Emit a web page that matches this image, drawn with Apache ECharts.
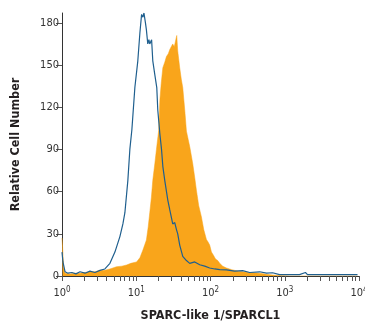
<!DOCTYPE html>
<html>
<head>
<meta charset="utf-8">
<script src="https://cdn.jsdelivr.net/npm/echarts@6/dist/echarts.min.js"></script>
<style>
html,body{margin:0;padding:0;background:#fff;}
#c{width:365px;height:322px;}
</style>
</head>
<body>
<div id="c"></div>
<script>
// Isotype control (blue outline)
var blueX = [1, 1.03, 1.10, 1.20, 1.36, 1.54, 1.75, 2.04, 2.38, 2.78, 3.24, 3.78, 4.42, 5.16, 6.02, 6.61, 7.03, 7.71, 8.20, 8.73, 9.58, 10.5, 11.2, 11.8, 12.3, 12.7, 13.3, 13.7, 14.3, 14.8, 15.2, 16.1, 16.7, 17.8, 18.9, 19.5, 20.8, 21.9, 22.8, 24.2, 26.6, 28.3, 31.0, 33.0, 34.8, 36.2, 38.5, 42.3, 47.4, 52.5, 61.3, 71.6, 83.6, 97.5, 114, 133, 164, 211, 271, 337, 459, 569, 685, 851, 1160, 1580, 1900, 2025, 2940, 5460, 9550];
var blueY = [17, 10, 3, 2, 2.5, 1.5, 3, 2, 3.5, 2.5, 4, 5, 9, 17, 28, 37, 45, 68, 90, 104, 134, 153, 173, 186, 184, 187, 180, 175, 165, 168, 165, 168, 153, 143, 134, 118, 101, 90, 78, 68, 54, 47, 37, 38, 33, 30, 22, 14, 11, 9, 10, 8, 7, 5.7, 5, 4.5, 4.3, 3.5, 3.8, 2.5, 3, 2, 2.3, 1, 1, 1, 2.5, 1, 1, 1, 1];
// SPARC-like 1 stained (orange filled)
var orangeX = [1, 1.02, 1.05, 1.10, 1.28, 1.50, 1.75, 2.04, 2.38, 2.78, 3.24, 3.78, 4.42, 5.44, 6.40, 7.41, 8.46, 10.1, 11.2, 12.3, 13.7, 14.5, 15.2, 16.0, 16.7, 17.8, 18.7, 20.1, 20.8, 21.7, 22.8, 24.2, 25.5, 27.0, 28.3, 29.6, 31.0, 32.5, 34.1, 35.1, 36.2, 38.5, 40.4, 42.3, 45.0, 47.4, 50.1, 52.5, 55.0, 57.6, 61.3, 64.6, 69.4, 75.5, 81.1, 88.1, 93.1, 97.5, 103, 109, 117, 125, 133, 146, 164, 193, 232, 271, 337, 459, 569, 685, 851, 1160, 9550];
var orangeY = [27, 20, 6, 2, 1.5, 2, 2, 2.5, 3, 3, 4, 4, 5, 6.6, 7, 7.8, 9, 10, 13, 18.5, 25.6, 35, 45, 56, 68, 80, 90, 104, 125, 137, 148, 152, 156, 158, 161, 163, 165, 163, 168, 171, 160, 148, 140, 134, 118, 103, 97, 92, 86, 80, 70, 61, 50, 42, 33, 26, 24, 22, 17, 15, 12, 11, 9, 7, 5.7, 4.5, 3.5, 3, 2.5, 2, 1.2, 0.7, 0.3, 0, 0];
var yTicks = [0, 30, 60, 90, 120, 150, 180];
var xMajorTicks = [1, 10, 100, 1000, 10000];
var xMinorTicks = [2,3,4,5,6,7,8,9,20,30,40,50,60,70,80,90,200,300,400,500,600,700,800,900,2000,3000,4000,5000,6000,7000,8000,9000];
var xTitle = 'SPARC-like 1/SPARCL1';
var yTitle = 'Relative Cell Number';

function pairs(xs, ys){ return xs.map(function(x,i){ return [x, ys[i]]; }); }

// pick an installed condensed font
var ctx = document.createElement('canvas').getContext('2d');
function w(font, txt){ ctx.font = font; return ctx.measureText(txt).width; }
function has(name){
  var t = 'SPARC-like 1/SPARCL1 Relative';
  return w('14px "' + name + '", monospace', t) !== w('14px monospace', t);
}
var narrow = has('Liberation Sans Narrow');
var FONT = narrow ? '"Liberation Sans Narrow"' :
           (has('DejaVu Sans Condensed') ? '"DejaVu Sans Condensed"' : 'sans-serif');
var titleSize = narrow ? 14.5 : 12.5;
var tickSize = narrow ? 12.5 : 11;

var chart = echarts.init(document.getElementById('c'), null, {renderer:'canvas'});
chart.setOption({
  animation: false,
  backgroundColor: '#fff',
  grid: {left: 62, right: 6, top: 13, bottom: 46, containLabel: false, outerBoundsMode: 'none'},
  xAxis: {
    type: 'log', logBase: 10, min: 1, max: 10000,
    name: xTitle, nameLocation: 'middle', nameGap: 33,
    nameTextStyle: {fontFamily: FONT, fontWeight: 'bold', fontSize: titleSize, color: '#231f20'},
    axisLine: {lineStyle: {color: '#333', width: 1}},
    axisTick: {show: true, length: 5, customValues: xMajorTicks.concat(xMinorTicks), lineStyle: {color: '#555'}},
    minorTick: {show: false},
    splitLine: {show: false},
    axisLabel: {
      customValues: xMajorTicks, margin: 10,
      fontFamily: FONT, color: '#333',
      formatter: function(v){ return '{b|10}{s|' + Math.round(Math.log10(v)) + '}'; },
      rich: {
        b: {fontFamily: FONT, fontSize: tickSize, color: '#333', lineHeight: 14},
        s: {fontFamily: FONT, fontSize: 8, color: '#333', verticalAlign: 'top', lineHeight: 8, padding: [0,0,6,0]}
      }
    }
  },
  yAxis: {
    type: 'value', min: 0, max: 187,
    name: yTitle, nameLocation: 'middle', nameGap: 40, nameRotate: 90,
    nameTextStyle: {fontFamily: FONT, fontWeight: 'bold', fontSize: titleSize, color: '#231f20'},
    axisLine: {show: true, lineStyle: {color: '#333', width: 1}},
    axisTick: {show: true, length: 6, customValues: yTicks, lineStyle: {color: '#555'}},
    splitLine: {show: false},
    axisLabel: {customValues: yTicks, margin: 3, fontFamily: FONT, fontSize: tickSize, color: '#333'}
  },
  series: [
    {
      type: 'line', data: pairs(orangeX, orangeY), showSymbol: false,
      lineStyle: {width: 0.5, color: '#f9a51b'}, itemStyle: {color: '#f9a51b'},
      areaStyle: {color: '#f9a51b', opacity: 1}, z: 2
    },
    {
      type: 'line', data: pairs(blueX, blueY), showSymbol: false,
      lineStyle: {width: 1.2, color: '#1f5f8e'}, itemStyle: {color: '#1f5f8e'}, z: 3
    }
  ]
});
</script>
</body>
</html>
